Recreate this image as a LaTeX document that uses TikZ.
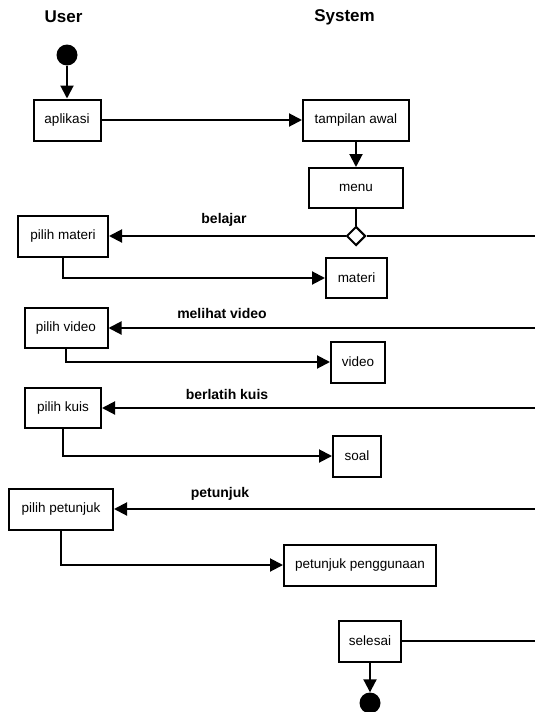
\documentclass[tikz,border=0pt]{standalone}
\usepackage{fontspec}
\setmainfont{Liberation Sans}
\usetikzlibrary{arrows.meta,shapes.geometric}
\begin{document}
\begin{tikzpicture}[x=1pt,y=-1pt,
  box/.style={draw,line width=2pt,inner sep=0pt,font=\fontsize{13.5}{16}\selectfont},
  lbl/.style={font=\bfseries\fontsize{14}{17}\selectfont},
  hdr/.style={font=\bfseries\fontsize{17}{20}\selectfont},
  conn/.style={line width=2pt},
  arr/.style={conn,-{Triangle[length=13pt,width=13pt]}},
  dot/.style={circle,fill=black,inner sep=0pt,minimum size=21pt}]
\useasboundingbox (0,0) rectangle (535,712);
\node[hdr] (user) at (63.5,17) {User};
\node[hdr] (sys) at (344.5,17) {System};
\node[dot] (start) at (67,55) {};
\node[box,minimum width=67pt,minimum height=41pt] (apl) at (67,120) {aplikasi};
\node[box,minimum width=106pt,minimum height=41pt] (tam) at (356,120) {tampilan awal};
\node[box,minimum width=94pt,minimum height=40pt] (menu) at (356,188) {menu};
\node[diamond,draw,fill=white,line width=2pt,inner sep=0pt,minimum width=19pt,minimum height=19pt] (dec) at (356,236) {};
\node[box,minimum width=90pt,minimum height=41pt] (pm) at (63,236) {pilih materi};
\node[box,minimum width=61pt,minimum height=40pt] (mat) at (356.5,278) {materi};
\node[box,minimum width=83pt,minimum height=40pt] (pv) at (66,328) {pilih video};
\node[box,minimum width=54pt,minimum height=41pt] (vid) at (358,362) {video};
\node[box,minimum width=76pt,minimum height=40pt] (pk) at (63,408) {pilih kuis};
\node[box,minimum width=48pt,minimum height=41pt] (soal) at (357,456) {soal};
\node[box,minimum width=104pt,minimum height=41pt] (pp) at (61,509) {pilih petunjuk};
\node[box,minimum width=152pt,minimum height=41pt] (peng) at (360,565) {petunjuk penggunaan};
\node[box,minimum width=62pt,minimum height=41pt] (sel) at (370,641) {selesai};
\node[dot] (end) at (370,703) {};
\coordinate (r0) at (535,236);
\coordinate (r1) at (535,328);
\coordinate (r2) at (535,408);
\coordinate (r3) at (535,509);
\coordinate (r4) at (535,641);
\node[lbl] (l1) at (224,220) {belajar};
\node[lbl] (l2) at (222,313) {melihat video};
\node[lbl] (l3) at (227,394) {berlatih kuis};
\node[lbl] (l4) at (220,494) {petunjuk};
\draw[arr] (start) -- (apl);
\draw[arr] (apl) -- (tam);
\draw[arr] (tam) -- (menu);
\draw[conn] (menu) -- (dec);
\draw[conn] (dec.east) -- (r0);
\draw[arr] (dec.west) -- (pm.east);
\draw[arr] (pm.south) |- (mat.west);
\draw[arr] (r1) -- (pv.east);
\draw[arr] (pv.south) |- (vid.west);
\draw[arr] (r2) -- (pk.east);
\draw[arr] (pk.south) |- (soal.west);
\draw[arr] (r3) -- (pp.east);
\draw[arr] (pp.south) |- (peng.west);
\draw[conn] (sel.east) -- (r4);
\draw[arr] (sel) -- (end);
\end{tikzpicture}
\end{document}
